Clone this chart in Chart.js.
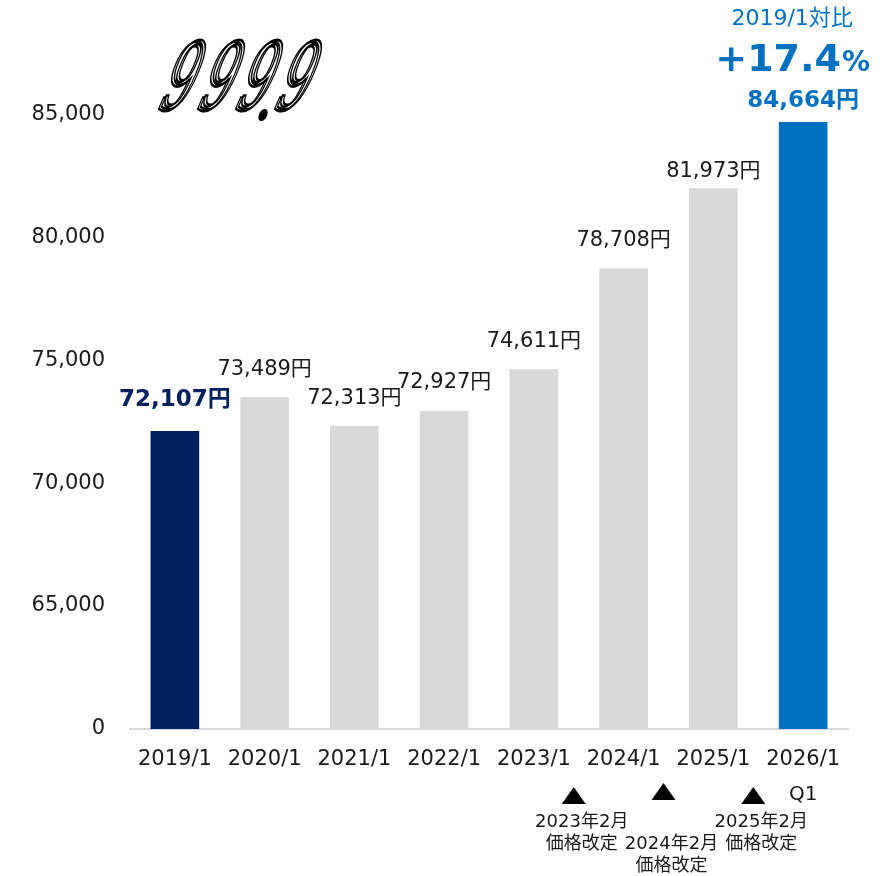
<!DOCTYPE html>
<html>
<head>
<meta charset="utf-8">
<script src="https://cdn.jsdelivr.net/npm/chart.js@4.4.1/dist/chart.umd.min.js"></script>
<style>
  html, body { margin: 0; padding: 0; background: #ffffff; }
  #wrap { width: 884px; height: 876px; position: relative; }
</style>
</head>
<body>
<div id="wrap"><canvas id="c" width="884" height="876"></canvas></div>
<script>
// ---- data ----
const categories = ['2019/1', '2020/1', '2021/1', '2022/1', '2023/1', '2024/1', '2025/1', '2026/1'];
const prices = [72107, 73489, 72313, 72927, 74611, 78708, 81973, 84664];
const yTickValues = [60000, 65000, 70000, 75000, 80000, 85000];
const yTickLabels = ['0', '65,000', '70,000', '75,000', '80,000', '85,000'];
const revisionAfterIndex = [4, 5, 6];
const revisionLabels = ['2023年2月', '2024年2月', '2025年2月'];
const revisionNote = '価格改定';
const lastCategoryNote = 'Q1';
const logoText = '999.9';

// ---- styles ----
const FONT = "'DejaVu Sans', 'Noto Sans CJK JP', sans-serif";
const NAVY = '#002060', BLUE = '#0070c0', GREY = '#d9d9d9', INK = '#1a1a1a';
const barColors = prices.map((v, i) => i === 0 ? NAVY : (i === prices.length - 1 ? BLUE : GREY));
const labelGap = [31, 28, 28, 29, 28, 28, 17, 21];
const revisionRow = [0, 1, 0];
const triangleLift = [0, 4, 0];

const fmt = v => v.toLocaleString('en-US') + '円';

const annotate = {
  id: 'annotate',
  afterDatasetsDraw(chart) {
    const ctx = chart.ctx;
    const meta = chart.getDatasetMeta(0);
    const last = prices.length - 1;
    ctx.save();
    ctx.textAlign = 'center';
    ctx.textBaseline = 'middle';
    // value labels
    meta.data.forEach((bar, i) => {
      if (i === 0) { ctx.fillStyle = NAVY; ctx.font = 'bold 23px ' + FONT; }
      else if (i === last) { ctx.fillStyle = BLUE; ctx.font = 'bold 23px ' + FONT; }
      else { ctx.fillStyle = INK; ctx.font = '21px ' + FONT; }
      ctx.fillText(fmt(prices[i]), bar.x, bar.y - labelGap[i]);
    });
    // top comparison
    const lb = meta.data[last];
    const cx = lb.x - 11;
    ctx.fillStyle = BLUE;
    ctx.font = '22px ' + FONT;
    ctx.fillText(categories[0] + '対比', cx, 19);
    const pct = ((prices[last] / prices[0] - 1) * 100).toFixed(1);
    const main = '+' + pct;
    ctx.font = 'bold 38px ' + FONT;
    const w1 = ctx.measureText(main).width;
    ctx.font = 'bold 28px ' + FONT;
    const w2 = ctx.measureText('%').width;
    const start = cx - (w1 + w2) / 2;
    ctx.textAlign = 'left';
    ctx.textBaseline = 'alphabetic';
    ctx.font = 'bold 38px ' + FONT;
    ctx.fillText(main, start, 71);
    ctx.font = 'bold 28px ' + FONT;
    ctx.fillText('%', start + w1 + 1, 71);

    // below-axis notes
    const xs = chart.scales.x;
    ctx.textAlign = 'center';
    ctx.textBaseline = 'middle';
    revisionAfterIndex.forEach((idx, k) => {
      const bx = (xs.getPixelForValue(idx) + xs.getPixelForValue(idx + 1)) / 2 - 5;
      const lift = triangleLift[k];
      ctx.fillStyle = '#000';
      ctx.beginPath();
      ctx.moveTo(bx, 787 - lift);
      ctx.lineTo(bx + 12, 804 - lift);
      ctx.lineTo(bx - 12, 804 - lift);
      ctx.closePath();
      ctx.fill();
      const ty = 822 + revisionRow[k] * 22;
      ctx.font = '18px ' + FONT;
      ctx.fillStyle = INK;
      ctx.fillText(revisionLabels[k], bx + 8, ty);
      ctx.fillText(revisionNote, bx + 8, ty + 22);
    });
    ctx.font = '20px ' + FONT;
    ctx.fillStyle = INK;
    ctx.fillText(lastCategoryNote, xs.getPixelForValue(last), 795);

    // logo
    const centers = [172, 211, 249, 288];
    const digits = logoText.replace('.', '').split('');
    ctx.strokeStyle = '#000';
    ctx.fillStyle = '#000';
    ctx.lineWidth = 2.6;
    ctx.font = 'italic 92px "DejaVu Serif", serif';
    digits.forEach((d, i) => {
      ctx.save();
      ctx.translate(centers[i], 110);
      ctx.transform(0.52, 0, -0.32, 1, 0, 0);
      ctx.textAlign = 'center';
      ctx.textBaseline = 'alphabetic';
      ctx.strokeText(d, 0, 0);
      ctx.strokeText(d, 4, -2);
      ctx.restore();
    });
    ctx.beginPath();
    ctx.ellipse(263, 115, 4, 6.5, 0.5, 0, Math.PI * 2);
    ctx.fill();
    ctx.restore();
  }
};

new Chart(document.getElementById('c'), {
  type: 'bar',
  data: {
    labels: categories,
    datasets: [{
      data: prices,
      backgroundColor: barColors,
      borderWidth: 0,
      barThickness: 48,
      base: 60000
    }]
  },
  options: {
    responsive: false,
    animation: false,
    layout: { padding: { top: 65, right: 36, left: 0, bottom: 0 } },
    plugins: { legend: { display: false }, tooltip: { enabled: false } },
    scales: {
      x: {
        afterFit: s => { s.height = 147; },
        grid: { display: false, drawTicks: false },
        border: { display: true, color: GREY, width: 2 },
        ticks: { padding: 18, color: INK, font: { size: 21, family: FONT }, maxRotation: 0 }
      },
      y: {
        min: 60000,
        max: 87000,
        afterBuildTicks: s => { s.ticks = yTickValues.map(v => ({ value: v })); },
        afterFit: s => { s.width = 130; },
        grid: { display: false, drawTicks: false },
        border: { display: false },
        ticks: {
          padding: 25, color: INK, font: { size: 21, family: FONT },
          callback: (v, i) => yTickLabels[i]
        }
      }
    }
  },
  plugins: [annotate]
});
</script>
</body>
</html>
